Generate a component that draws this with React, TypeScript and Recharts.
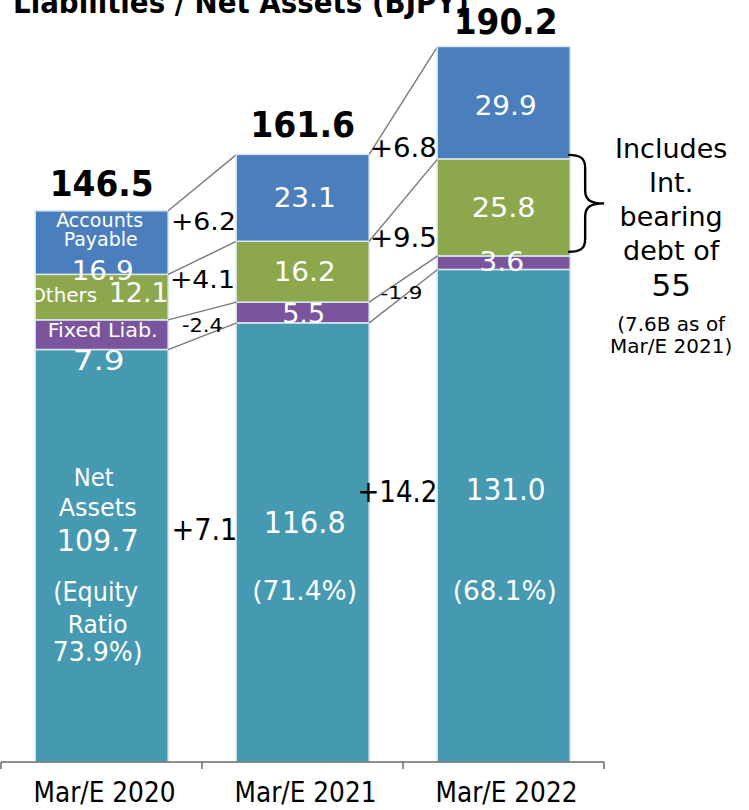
import React from 'react';
import { BarChart, Bar, XAxis, YAxis } from 'recharts';

const FONT = '"DejaVu Sans", Verdana, sans-serif';

// ---------- data ----------
const categories = ['Mar/E 2020', 'Mar/E 2021', 'Mar/E 2022'];
const netAssets = [109.7, 116.8, 131.0];
const fixedLiabilities = [7.9, 5.5, 3.6];
const otherLiabilities = [12.1, 16.2, 25.8];
const accountsPayable = [16.9, 23.1, 29.9];
const totalLabels = ['146.5', '161.6', '190.2'];
const equityRatios = ['73.9%', '71.4%', '68.1%'];
const netChanges = ['+7.1', '+14.2'];
const fixedChanges = ['-2.4', '-1.9'];
const otherChanges = ['+4.1', '+9.5'];
const payableChanges = ['+6.2', '+6.8'];
const debtNote = ['Includes', 'Int.', 'bearing', 'debt of', '55', '(7.6B as of', 'Mar/E 2021)'];
const title = 'Liabilities / Net Assets (BJPY)';
const yDomain = [0, 200];

type SegKey = 'net' | 'fixed' | 'others' | 'ap';
const SEGS: SegKey[] = ['net', 'fixed', 'others', 'ap'];
const series: Record<SegKey, number[]> = {
  net: netAssets,
  fixed: fixedLiabilities,
  others: otherLiabilities,
  ap: accountsPayable,
};
const changes: Record<SegKey, string[]> = {
  net: netChanges,
  fixed: fixedChanges,
  others: otherChanges,
  ap: payableChanges,
};

const data = categories.map((name, i) => ({
  name,
  net: netAssets[i],
  fixed: fixedLiabilities[i],
  others: otherLiabilities[i],
  ap: accountsPayable[i],
}));

const fmt = (v: number) => v.toFixed(1);
const topOf = (seg: SegKey, j: number) => {
  let s = 0;
  for (const k of SEGS) {
    s += series[k][j];
    if (k === seg) break;
  }
  return s;
};

// ---------- styles / layout ----------
const COLORS: Record<SegKey, string> = {
  net: '#4599b1',
  fixed: '#7a549c',
  others: '#8ca74c',
  ap: '#4a7ebc',
};
const SEG_STROKE = '#dbe7ed';
const CONNECTOR = '#7a7a7a';
const GAP = 0.17;

type Item = {
  seg: SegKey | 'total';
  text: string;
  dy: number;
  dx: number;
  size: number;
  w?: number;
  bold?: boolean;
  color?: string;
};

const barLabels: Item[][] = [
  [
    { seg: 'total', text: totalLabels[0], dy: -15, dx: 0, size: 36, w: 104, bold: true, color: '#000' },
    { seg: 'ap', text: 'Accounts', dy: 16, dx: -2, size: 19, w: 87 },
    { seg: 'ap', text: 'Payable', dy: 35, dx: -1, size: 19, w: 74 },
    { seg: 'ap', text: fmt(accountsPayable[0]), dy: 69, dx: 1, size: 27, w: 62 },
    { seg: 'others', text: 'Others', dy: 28, dx: -38, size: 20, w: 67 },
    { seg: 'others', text: fmt(otherLiabilities[0]), dy: 28, dx: 37, size: 27, w: 60 },
    { seg: 'fixed', text: 'Fixed Liab.', dy: 17, dx: 1, size: 19, w: 110 },
    { seg: 'fixed', text: fmt(fixedLiabilities[0]), dy: 50, dx: -3, size: 27, w: 52 },
    { seg: 'net', text: 'Net', dy: 136, dx: -8, size: 25, w: 40 },
    { seg: 'net', text: 'Assets', dy: 166, dx: -4, size: 25, w: 78 },
    { seg: 'net', text: fmt(netAssets[0]), dy: 201, dx: -4, size: 31, w: 82 },
    { seg: 'net', text: '(Equity', dy: 251, dx: -6, size: 26, w: 85 },
    { seg: 'net', text: 'Ratio', dy: 283, dx: -4, size: 25, w: 60 },
    { seg: 'net', text: equityRatios[0] + ')', dy: 311, dx: -4, size: 26, w: 90 },
  ],
  [
    { seg: 'total', text: totalLabels[1], dy: -17, dx: 0, size: 36, w: 105, bold: true, color: '#000' },
    { seg: 'ap', text: fmt(accountsPayable[1]), dy: 53, dx: 2, size: 27, w: 62 },
    { seg: 'others', text: fmt(otherLiabilities[1]), dy: 40, dx: 2, size: 27, w: 62 },
    { seg: 'fixed', text: fmt(fixedLiabilities[1]), dy: 21, dx: 1, size: 27, w: 43 },
    { seg: 'net', text: fmt(netAssets[1]), dy: 210, dx: 2, size: 30, w: 82 },
    { seg: 'net', text: '(' + equityRatios[1] + ')', dy: 277, dx: 2, size: 26, w: 105 },
  ],
  [
    { seg: 'total', text: totalLabels[2], dy: -12, dx: 2, size: 36, w: 104, bold: true, color: '#000' },
    { seg: 'ap', text: fmt(accountsPayable[2]), dy: 69, dx: 2, size: 27, w: 62 },
    { seg: 'others', text: fmt(otherLiabilities[2]), dy: 58, dx: 0, size: 27, w: 64 },
    { seg: 'fixed', text: fmt(fixedLiabilities[2]), dy: 15, dx: -2, size: 27, w: 45 },
    { seg: 'net', text: fmt(netAssets[2]), dy: 231, dx: 2, size: 30, w: 80 },
    { seg: 'net', text: '(' + equityRatios[2] + ')', dy: 331, dx: 1, size: 26, w: 104 },
  ],
];

const changeLayout: Record<SegKey, { dy: number; dx: number; size: number; w: number }[]> = {
  ap: [
    { dy: 19, dx: 1, size: 25, w: 65 },
    { dy: 3, dx: 0, size: 26, w: 67 },
  ],
  others: [
    { dy: 14, dx: 0, size: 25, w: 65 },
    { dy: 6, dx: 0, size: 26, w: 67 },
  ],
  fixed: [
    { dy: 12, dx: 0, size: 19, w: 41 },
    { dy: -3, dx: -2, size: 18, w: 42 },
  ],
  net: [
    { dy: 190, dx: 2, size: 30, w: 66 },
    { dy: 179, dx: -6, size: 30, w: 80 },
  ],
};

const noteLayout = [
  { dy: -1, size: 27 },
  { dy: 33, size: 27 },
  { dy: 67, size: 27 },
  { dy: 101, size: 27 },
  { dy: 137, size: 31 },
  { dy: 172, size: 20 },
  { dy: 194, size: 20 },
];

// ---------- helpers ----------
function Txt(props: {
  cx: number;
  y: number;
  text: string;
  size: number;
  w?: number;
  bold?: boolean;
  color?: string;
}) {
  const { cx, y, text, size, w, bold, color } = props;
  const common = {
    y,
    fontSize: size,
    fontFamily: FONT,
    fontWeight: bold ? 'bold' : 'normal',
    fill: color || '#fff',
  } as any;
  if (w) {
    return (
      <text {...common} x={cx - w / 2} textAnchor="start" textLength={w} lengthAdjust="spacingAndGlyphs">
        {text}
      </text>
    );
  }
  return (
    <text {...common} x={cx} textAnchor="middle">
      {text}
    </text>
  );
}

const makeSegShape = (seg: SegKey) => (p: any) => (
  <rect
    x={p.x}
    y={p.y}
    width={p.width}
    height={p.height}
    fill={COLORS[seg]}
    stroke={SEG_STROKE}
    strokeWidth={1.5}
  />
);

function TopShape(p: any) {
  const { x, y, width, height } = p;
  let i = typeof p.index === 'number' ? p.index : categories.indexOf(p.payload?.name);
  if (i < 0) i = 0;
  const k = height / accountsPayable[i];
  const base = y + topOf('ap', i) * k;
  const Y = (v: number) => base - v * k;
  const band = width / (1 - 2 * GAP);
  const cx = x + width / 2;
  const els: any[] = [];
  els.push(
    <rect key="r" x={x} y={y} width={width} height={height} fill={COLORS.ap} stroke={SEG_STROKE} strokeWidth={1.5} />
  );
  if (i < categories.length - 1) {
    const gx = x + width + (band - width) / 2;
    SEGS.forEach((seg) => {
      const y1 = Y(topOf(seg, i));
      const y2 = Y(topOf(seg, i + 1));
      els.push(
        <line key={'l' + seg} x1={x + width} y1={y1} x2={x + band} y2={y2} stroke={CONNECTOR} strokeWidth={1.4} />
      );
      const L = changeLayout[seg][i];
      els.push(
        <Txt key={'c' + seg} cx={gx + L.dx} y={y1 + L.dy} text={changes[seg][i]} size={L.size} w={L.w} color="#000" />
      );
    });
  }
  barLabels[i].forEach((it, n) => {
    const top = it.seg === 'total' ? Y(topOf('ap', i)) : Y(topOf(it.seg, i));
    els.push(
      <Txt
        key={'t' + n}
        cx={cx + it.dx}
        y={top + it.dy}
        text={it.text}
        size={it.size}
        w={it.w}
        bold={it.bold}
        color={it.color}
      />
    );
  });
  if (i === categories.length - 1) {
    const top = Y(topOf('others', i)) - 4;
    const bot = Y(topOf('fixed', i)) - 4;
    const mid = (top + bot) / 2;
    const x0 = x + width - 2;
    const xs = x0 + 17;
    const xp = x0 + 36;
    const r = 13;
    const d = `M${x0},${top} C${x0 + 12},${top} ${xs},${top + 3} ${xs},${top + r} L${xs},${mid - r} C${xs},${mid - 3} ${xs + 6},${mid} ${xp},${mid} C${xs + 6},${mid} ${xs},${mid + 3} ${xs},${mid + r} L${xs},${bot - r} C${xs},${bot - 3} ${x0 + 12},${bot} ${x0},${bot}`;
    els.push(<path key="brace" d={d} fill="none" stroke="#000" strokeWidth={2.4} />);
    const ncx = x + width + 101;
    const ntop = Y(topOf('others', i));
    debtNote.forEach((t, n) => {
      els.push(
        <Txt key={'n' + n} cx={ncx} y={ntop + noteLayout[n].dy} text={t} size={noteLayout[n].size} color="#000" />
      );
    });
  }
  return <g>{els}</g>;
}

function AxisTick(props: any) {
  const { x, y, payload } = props;
  const half = payload && payload.offset ? payload.offset : 100.5;
  const idx = payload && typeof payload.index === 'number' ? payload.index : categories.indexOf(payload?.value);
  return (
    <g>
      <line x1={x - half} y1={y} x2={x - half} y2={y + 7} stroke="#6a6a6a" strokeWidth={1.5} />
      {idx === categories.length - 1 && (
        <line x1={x + half} y1={y} x2={x + half} y2={y + 7} stroke="#6a6a6a" strokeWidth={1.5} />
      )}
      <Txt cx={x + 3} y={y + 40} text={payload.value} size={28} w={142} color="#000" />
    </g>
  );
}

export default function App() {
  return (
    <div style={{ position: 'absolute', left: 0, top: 0, width: 749, height: 810, background: '#fff' }}>
      <BarChart
        width={749}
        height={810}
        data={data}
        margin={{ top: 10, right: 145, left: 1, bottom: 0 }}
        barCategoryGap="17%"
      >
        <XAxis
          dataKey="name"
          height={48}
          interval={0}
          tickLine={false}
          tickSize={0}
          tickMargin={0}
          axisLine={{ stroke: '#6a6a6a', strokeWidth: 1.5 }}
          tick={<AxisTick />}
        />
        <YAxis hide domain={yDomain} type="number" />
        <Bar dataKey="net" stackId="a" isAnimationActive={false} shape={makeSegShape('net')} />
        <Bar dataKey="fixed" stackId="a" isAnimationActive={false} shape={makeSegShape('fixed')} />
        <Bar dataKey="others" stackId="a" isAnimationActive={false} shape={makeSegShape('others')} />
        <Bar dataKey="ap" stackId="a" isAnimationActive={false} shape={TopShape} />
      </BarChart>
      <svg
        width={749}
        height={40}
        style={{ position: 'absolute', left: 0, top: 0, pointerEvents: 'none' }}
      >
        <text
          x={13}
          y={13}
          fontSize={31}
          fontWeight="bold"
          fontFamily={FONT}
          fill="#000"
          textLength={456}
          lengthAdjust="spacingAndGlyphs"
        >
          {title}
        </text>
      </svg>
    </div>
  );
}
